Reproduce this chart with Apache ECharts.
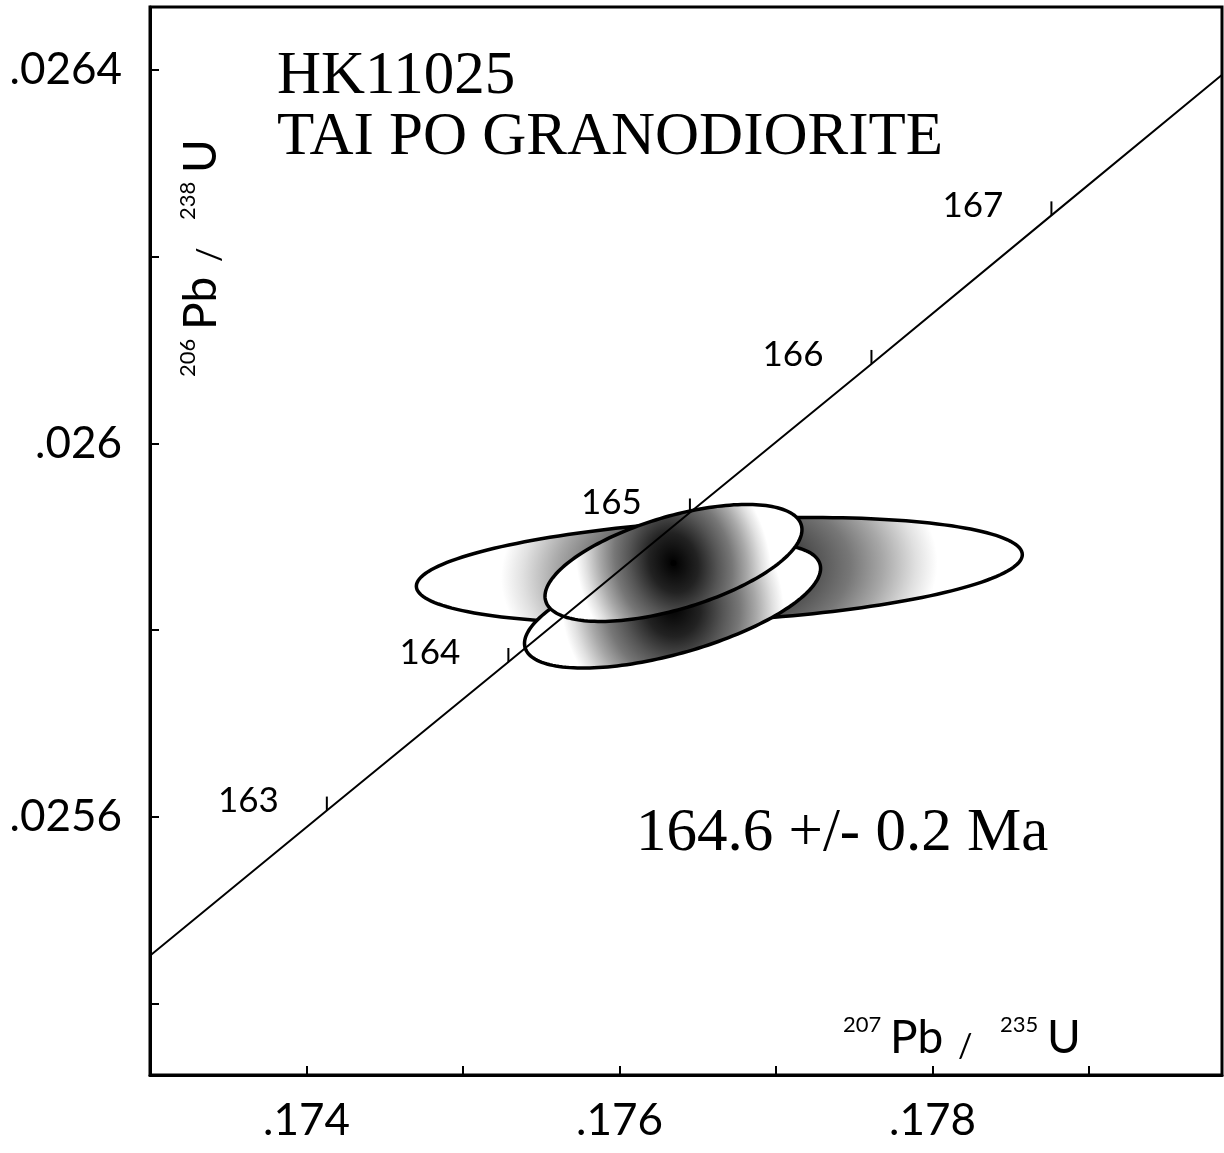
<!DOCTYPE html>
<html>
<head>
<meta charset="utf-8">
<script src="https://cdn.jsdelivr.net/npm/echarts@6/dist/echarts.min.js"></script>
<style>
html,body{margin:0;padding:0;background:#fff;}
#chart{width:1224px;height:1153px;}
</style>
</head>
<body>
<div id="chart"></div>
<script>
// ---- Data ----
// Concordia curve points (age in Ma, 207Pb/235U, 206Pb/238U)
const concordiaAge = [162, 163, 164, 165, 166, 167, 168];
const concordiaX = [0.17298, 0.17413, 0.17529, 0.17645, 0.17761, 0.17876, 0.17992];
const concordiaY = [0.025449, 0.025607, 0.025766, 0.025926, 0.026085, 0.026244, 0.026404];
// Age tick marks shown on the concordia
const tickAges = [163, 164, 165, 166, 167];
const tickX = [0.17413, 0.17529, 0.17645, 0.17761, 0.17876];
const tickY = [0.025607, 0.025766, 0.025926, 0.026085, 0.026244];
// Error ellipses: centre, half-extent in x and y, correlation
const ellX = [0.176638, 0.176339, 0.176345];
const ellXErr = [0.001936, 0.000946, 0.000821];
const ellY = [0.025864, 0.025826, 0.025872];
const ellYErr = [0.0000567, 0.0000665, 0.0000626];
const ellRho = [0.298, 0.603, 0.569];
// Axis ticks and labels
const xTicks = [0.174, 0.175, 0.176, 0.177, 0.178, 0.179];
const xLabels = [0.174, 0.176, 0.178];
const yTicks = [0.0254, 0.0256, 0.0258, 0.026, 0.0262, 0.0264];
const yLabels = [0.0256, 0.026, 0.0264];
// Texts
const titleLines = ['HK11025', 'TAI PO GRANODIORITE'];
const resultText = '164.6 +/- 0.2 Ma';

const SANS = 'Lato, "DejaVu Sans", sans-serif';
const SERIF = '"Liberation Serif", "Times New Roman", serif';

const chart = echarts.init(document.getElementById('chart'), null, {renderer: 'canvas'});

function fmt(v) { return String(v).replace(/^0/, ''); }

function txt(text, x, baseline, fs, family, align, k) {
  return {
    type: 'text', x: x, y: baseline - (k == null ? 0.36 : k) * fs, z: 100,
    style: {
      text: text, font: fs + 'px ' + family, fill: '#000',
      align: align || 'left', textAlign: align || 'left',
      verticalAlign: 'middle', textVerticalAlign: 'middle'
    }
  };
}

function ratioTitle(sup1, sup2, x, y, rotation) {
  return {
    type: 'group', x: x, y: y, rotation: rotation || 0,
    children: [
      txt(sup1, 0, -22, 22, SANS),
      txt('Pb', 47, 0, 46, SANS),
      txt('/', 115, 3, 32, SANS),
      txt(sup2, 157, -22, 22, SANS),
      txt('U', 204, 0, 46, SANS)
    ]
  };
}

// radial shading profile (0 = centre, 1 = white limit)
const gradStops = [
  {offset: 0, color: '#000000'},
  {offset: 0.25, color: '#222222'},
  {offset: 0.45, color: '#555555'},
  {offset: 0.6, color: '#777777'},
  {offset: 0.75, color: '#a8a8a8'},
  {offset: 0.9, color: '#e0e0e0'},
  {offset: 1, color: '#ffffff'}
];
const MAJOR_REACH = 0.72; // white beyond this fraction of the major half-axis
const MINOR_REACH = 2.6;  // shading stretched across the minor axis

function renderEllipse(params, api) {
  const c = api.coord([api.value(0), api.value(1)]);
  const W = api.size([api.value(2), 0])[0];
  const H = api.size([0, api.value(3)])[1];
  const rho = api.value(4);
  const Sxx = W * W, Syy = H * H, Sxy = -rho * W * H;
  const theta = 0.5 * Math.atan2(2 * Sxy, Sxx - Syy);
  const m = (Sxx + Syy) / 2;
  const d = Math.sqrt(Math.pow((Sxx - Syy) / 2, 2) + Sxy * Sxy);
  const a = Math.sqrt(m + d);
  const b = Math.sqrt(Math.max(m - d, 1e-6));
  const N = 180;
  const s = Math.sqrt(1 - rho * rho);
  const pts = [], local = [];
  for (let k = 0; k < N; k++) {
    const t = 2 * Math.PI * k / N;
    pts.push([c[0] + W * Math.cos(t), c[1] - H * (rho * Math.cos(t) + s * Math.sin(t))]);
    local.push([Math.cos(t) / MAJOR_REACH, Math.sin(t) / MINOR_REACH]);
  }
  return {
    type: 'group',
    children: [
      {
        type: 'polygon',
        x: c[0], y: c[1], rotation: -theta,
        scaleX: a * MAJOR_REACH, scaleY: b * MINOR_REACH,
        shape: {points: local},
        style: {fill: new echarts.graphic.RadialGradient(0, 0, 1, gradStops, true), stroke: null}
      },
      {
        type: 'polygon',
        shape: {points: pts},
        style: {fill: null, stroke: '#000', lineWidth: 3.5}
      }
    ]
  };
}

function renderAgeTick(params, api) {
  const p = api.coord([api.value(0), api.value(1)]);
  return {
    type: 'group',
    children: [
      {type: 'line', shape: {x1: p[0], y1: p[1], x2: p[0], y2: p[1] - 14},
       style: {stroke: '#000', lineWidth: 2}},
      {type: 'text', x: p[0] - 48, y: p[1] + 3 - 0.36 * 35,
       style: {text: String(api.value(2)), font: '35px ' + SANS, fill: '#000',
               align: 'right', verticalAlign: 'middle'}}
    ]
  };
}

const option = {
  animation: false,
  backgroundColor: '#fff',
  grid: {left: 150, top: 7, right: 2, bottom: 78, show: true,
         borderColor: '#000', borderWidth: 3, backgroundColor: 'transparent'},
  xAxis: {
    type: 'value', min: 0.173, max: 0.17985,
    axisLine: {show: true, lineStyle: {color: '#000', width: 3}},
    axisTick: {show: true, inside: true, length: 9, customValues: xTicks,
               lineStyle: {color: '#000', width: 2}},
    axisLabel: {show: true, customValues: xLabels, formatter: fmt, margin: 24,
                color: '#000', fontSize: 44, fontFamily: SANS},
    splitLine: {show: false}
  },
  yAxis: {
    type: 'value', min: 0.025324, max: 0.026467,
    axisLine: {show: true, lineStyle: {color: '#000', width: 3}},
    axisTick: {show: true, inside: true, length: 9, customValues: yTicks,
               lineStyle: {color: '#000', width: 2}},
    axisLabel: {show: true, customValues: yLabels, formatter: fmt, margin: 28,
                color: '#000', fontSize: 44, fontFamily: SANS, padding: [14, 0, 0, 0]},
    splitLine: {show: false}
  },
  series: [
    {
      type: 'custom', name: 'ellipses', z: 2,
      renderItem: renderEllipse,
      data: ellX.map((x, i) => [x, ellY[i], ellXErr[i], ellYErr[i], ellRho[i]]),
      encode: {x: 0, y: 1}
    },
    {
      type: 'scatter', name: 'centre', z: 3,
      symbol: 'circle', symbolSize: 6,
      itemStyle: {color: '#000'},
      data: [[ellX[2], ellY[2]]]
    },
    {
      type: 'line', name: 'concordia', z: 4, clip: true,
      showSymbol: false, symbol: 'none',
      lineStyle: {color: '#000', width: 2},
      data: concordiaX.map((x, i) => [x, concordiaY[i]])
    },
    {
      type: 'custom', name: 'ageTicks', z: 5,
      renderItem: renderAgeTick,
      data: tickAges.map((a, i) => [tickX[i], tickY[i], a]),
      encode: {x: 0, y: 1}
    }
  ],
  graphic: [
    txt(titleLines[0], 277, 98, 61, SERIF, 'left', 0.34),
    txt(titleLines[1], 277, 159, 61, SERIF, 'left', 0.34),
    txt(resultText, 636, 855, 61, SERIF, 'left', 0.34),
    ratioTitle('207', '235', 843, 1055, 0),
    ratioTitle('206', '238', 218, 377, Math.PI / 2)
  ]
};
chart.setOption(option);
</script>
</body>
</html>
